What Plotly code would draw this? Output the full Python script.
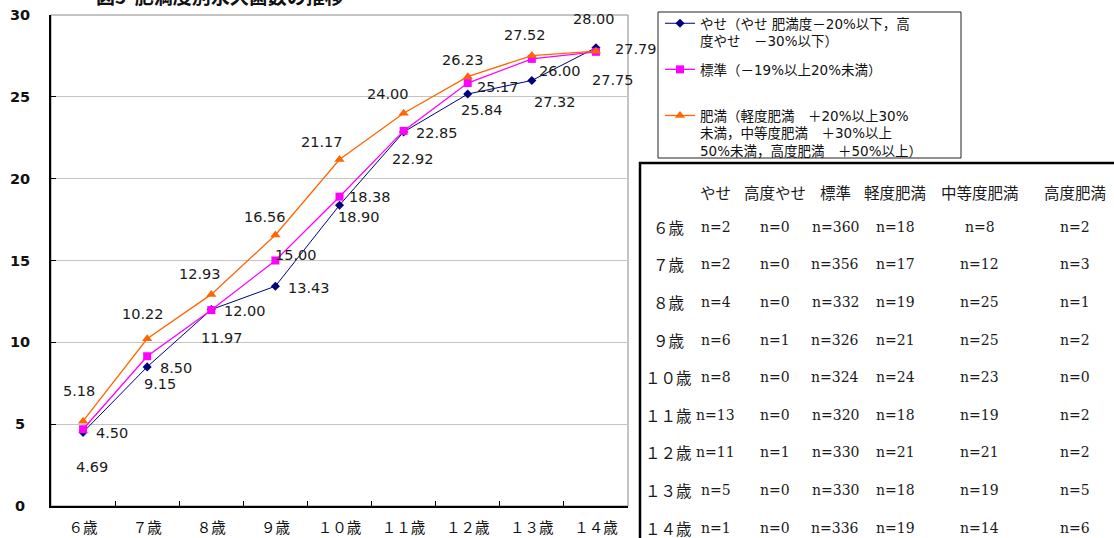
import plotly.graph_objects as go

# ---------------- data ----------------
ages = ["６歳", "７歳", "８歳", "９歳", "１０歳", "１１歳", "１２歳", "１３歳", "１４歳"]
yase = [4.50, 8.50, 12.00, 13.43, 18.38, 22.85, 25.17, 26.00, 28.00]
hyojun = [4.69, 9.15, 11.97, 15.00, 18.90, 22.92, 25.84, 27.32, 27.75]
himan = [5.18, 10.22, 12.93, 16.56, 21.17, 24.00, 26.23, 27.52, 27.79]

series_names = [
    "やせ（やせ 肥満度－20%以下，高<br>度やせ　－30%以下）",
    "標準（－19%以上20%未満）<br>\u00a0",
    "肥満（軽度肥満　＋20%以上30%<br>未満，中等度肥満　＋30%以上<br>50%未満，高度肥満　＋50%以上）",
]
y_ticks = [0, 5, 10, 15, 20, 25, 30]
title_text = "図5  肥満度別永久歯数の推移"

table_header = ["やせ", "高度やせ", "標準", "軽度肥満", "中等度肥満", "高度肥満"]
table_rows = ["６歳", "７歳", "８歳", "９歳", "１０歳", "１１歳", "１２歳", "１３歳", "１４歳"]
n_yase = [2, 2, 4, 6, 8, 13, 11, 5, 1]
n_kodo_yase = [0, 0, 0, 1, 0, 0, 1, 0, 0]
n_hyojun = [360, 356, 332, 326, 324, 320, 330, 330, 336]
n_keido = [18, 17, 19, 21, 24, 18, 21, 18, 19]
n_chuto = [8, 12, 25, 25, 23, 19, 21, 19, 14]
n_kodo_himan = [2, 3, 1, 2, 0, 2, 2, 5, 6]

# ---------------- styling / layout ----------------
W, H = 1114, 538
ML, MR, MT, MB = 51, 486, 15, 32
PW, PH = W - ML - MR, H - MT - MB


def px_x(x):
    return (x - ML) / PW


def px_y(y):
    return 1 - (y - MT) / PH


colors = ["#000080", "#FF00FF", "#FF6600"]
symbols = ["diamond", "square", "triangle-up"]
msizes = [7, 8, 9]
lwidths = [1, 1.3, 1.3]

# label offsets (pixels, dx right, dy down) for each point
offsets = [
    [(29, 1), (29, 1), (34, 1), (34, 2), (30, -8), (33, 1), (30, -7), (28, -9), (-2, -29)],
    [(9, 38), (13, 28), (11, 28), (21, -6), (19, 20), (9, 28), (14, 27), (23, 43), (17, 28)],
    [(-4, -30), (-4, -25), (-11, -20), (-10, -18), (-18, -18), (-16, -19), (-5, -17), (-7, -21), (40, -2)],
]

num_font = dict(family="DejaVu Sans, Noto Sans CJK JP", size=14.5, color="#1a1a1a")

fig = go.Figure()
all_series = [yase, hyojun, himan]
for k, vals in enumerate(all_series):
    fig.add_trace(go.Scatter(
        x=ages, y=vals, mode="lines+markers", name=series_names[k],
        legendgroup=f"g{k}",
        line=dict(color=colors[k], width=lwidths[k]),
        marker=dict(symbol=symbols[k], size=msizes[k], color=colors[k]),
    ))

annotations = []
for k, vals in enumerate(all_series):
    for i, v in enumerate(vals):
        dx, dy = offsets[k][i]
        annotations.append(dict(
            x=ages[i], y=v, xref="x", yref="y", text=f"{v:.2f}",
            showarrow=False, xshift=dx, yshift=-dy,
            xanchor="center", yanchor="middle", font=num_font,
        ))

# y tick labels (centered like the original)
for t in y_ticks:
    annotations.append(dict(
        x=px_x(20), y=t, xref="paper", yref="y", text=str(t), showarrow=False,
        xanchor="center", yanchor="middle",
        font=dict(family="DejaVu Sans", size=14.5, color="#111", weight="bold"),
    ))

# title (partly cut off at top, as in the original)
annotations.append(dict(
    x=px_x(220), y=px_y(-5), xref="paper", yref="paper", text=title_text,
    showarrow=False, xanchor="center", yanchor="middle",
    font=dict(family="Noto Sans CJK JP", size=19, color="#111", weight="bold"),
))

# table
tfont = dict(family="DejaVu Serif, Noto Sans CJK JP", size=14, color="#1a1a1a")
hfont = dict(family="Noto Sans CJK JP", size=15.5, color="#1a1a1a")
col_x = [668, 715.5, 775, 835, 895, 979.5, 1074.7]
head_y, row_y0, row_dy = 191.7, 226.7, 37.6
for j, h in enumerate(table_header):
    annotations.append(dict(
        x=px_x(col_x[j + 1]), y=px_y(head_y), xref="paper", yref="paper", text=h,
        showarrow=False, xanchor="center", yanchor="middle", font=hfont))
cols = [n_yase, n_kodo_yase, n_hyojun, n_keido, n_chuto, n_kodo_himan]
for i, r in enumerate(table_rows):
    yy = px_y(row_y0 + i * row_dy)
    annotations.append(dict(
        x=px_x(col_x[0]), y=yy, xref="paper", yref="paper", text=r,
        showarrow=False, xanchor="center", yanchor="middle", font=hfont))
    for j, c in enumerate(cols):
        annotations.append(dict(
            x=px_x(col_x[j + 1]), y=yy, xref="paper", yref="paper", text=f"n={c[i]}",
            showarrow=False, xanchor="center", yanchor="middle", font=tfont))

shapes = [
    # plot frame (gray top/right)
    dict(type="rect", xref="paper", yref="paper", x0=0, x1=1, y0=0, y1=1,
         line=dict(color="#8a8a8a", width=1), layer="below"),
    # legend box
    dict(type="rect", xref="paper", yref="paper", x0=px_x(658), x1=px_x(961),
         y0=px_y(158), y1=px_y(12), line=dict(color="#222", width=1),
         fillcolor="rgba(0,0,0,0)"),
    # table box
    dict(type="rect", xref="paper", yref="paper", x0=px_x(640), x1=px_x(1125),
         y0=px_y(550), y1=px_y(163), line=dict(color="#000", width=2.5),
         fillcolor="rgba(0,0,0,0)"),
]

fig.update_layout(
    width=W, height=H,
    margin=dict(l=ML, r=MR, t=MT, b=MB, pad=0, autoexpand=False),
    paper_bgcolor="white", plot_bgcolor="white",
    showlegend=True,
    legend=dict(
        x=px_x(660), y=px_y(8), xanchor="left", yanchor="top",
        bgcolor="rgba(0,0,0,0)", borderwidth=0,
        font=dict(family="DejaVu Sans, Noto Sans CJK JP", size=13.5, color="#111"),
        valign="top", tracegroupgap=8, traceorder="grouped",
    ),
    annotations=annotations,
    shapes=shapes,
    xaxis=dict(
        type="category", showgrid=False, showline=True, linecolor="#000", linewidth=1.5,
        ticks="inside", tickson="boundaries", ticklen=5, tickcolor="#000",
        tickfont=dict(family="Noto Sans CJK JP", size=14.5, color="#111"),
        ticklabelstandoff=8, range=[-0.5, 8.5], fixedrange=True, automargin=False,
    ),
    yaxis=dict(
        range=[0, 30], tickvals=y_ticks, showticklabels=False,
        showgrid=True, gridcolor="#c4c4c4", gridwidth=1,
        showline=True, linecolor="#000", linewidth=1.5, automargin=False,
        ticks="inside", ticklen=5, tickcolor="#000", zeroline=False,
    ),
)

fig.write_html("out.html")
